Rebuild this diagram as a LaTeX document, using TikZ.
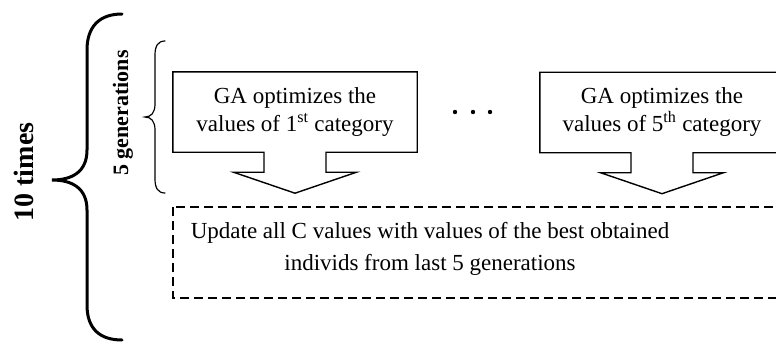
\documentclass[tikz,border=0pt]{standalone}
\usepackage{fontspec}
\setmainfont{Liberation Serif}
\usetikzlibrary{calc}

% Box with a downward block arrow leaving its bottom edge
\newcommand\arrowcallout[1]{%
  \draw[callout] (#1.south west) -- (#1.north west) -- (#1.north east) -- (#1.south east)
    -- ([xshift=31pt]#1.south) -- ++(0,20) -- ++(30.5,0)
    -- ([yshift=-41pt]#1.south)
    -- ([xshift=-61.5pt,yshift=-20pt]#1.south) -- ++(30.5,0)
    -- ([xshift=-31pt]#1.south) -- cycle;}

\begin{document}
\begin{tikzpicture}[x=1pt,y=-1pt,
  callout/.style={line width=1.4pt, line join=miter},
  boxtext/.style={font=\fontsize{23}{28}\selectfont, align=center,
    minimum width=244pt, minimum height=80pt, inner sep=0pt},
  dashbox/.style={line width=2.4pt, dash pattern=on 9pt off 5pt},
  bigbrace/.style={line width=3pt, line cap=round},
  smallbrace/.style={line width=1.2pt, line cap=round},
  sidelabel/.style={rotate=90, font=\bfseries\fontsize{#1}{#1}\selectfont}]
\useasboundingbox (0,0) rectangle (776,345);
\clip (0,0) rectangle (776,345);

% outer brace: whole loop repeated
\draw[bigbrace] (122,14) .. controls (100,14) and (87,26) .. (87,50)
  -- (87,150) .. controls (87,172) and (72,180) .. (52,180)
  .. controls (72,180) and (87,188) .. (87,210)
  -- (87,305) .. controls (87,329) and (100,340) .. (122,340);
\node[sidelabel=28] (ten) at (24,172) {10 times};

% inner brace: one round of generations
\draw[smallbrace] (165,41) .. controls (158,41) and (155,46) .. (155,55)
  -- (155,104) .. controls (155,113) and (151,117) .. (145,117)
  .. controls (151,117) and (155,121) .. (155,130)
  -- (155,179) .. controls (155,188) and (158,193) .. (165,193);
\node[sidelabel=22] (gen) at (123,113) {5 generations};

% per-category optimisation boxes
\node[boxtext] (b1) at (295,112) {GA optimizes the\\values of 1\textsuperscript{st} category};
\arrowcallout{b1}
\node[boxtext] (b5) at (662,112.5) {GA optimizes the\\values of 5\textsuperscript{th} category};
\arrowcallout{b5}

% ellipsis between the boxes
\fill (455,112) circle (2.2);
\fill (473,112) circle (2.2);
\fill (490,112) circle (2.2);

% update step
\draw[dashbox] (173,207) rectangle (830,298);
\node[font=\fontsize{23}{32}\selectfont, align=center] (upd) at (430,249)
  {Update all C values with values of the best obtained\\individs from last 5 generations};
\end{tikzpicture}
\end{document}
